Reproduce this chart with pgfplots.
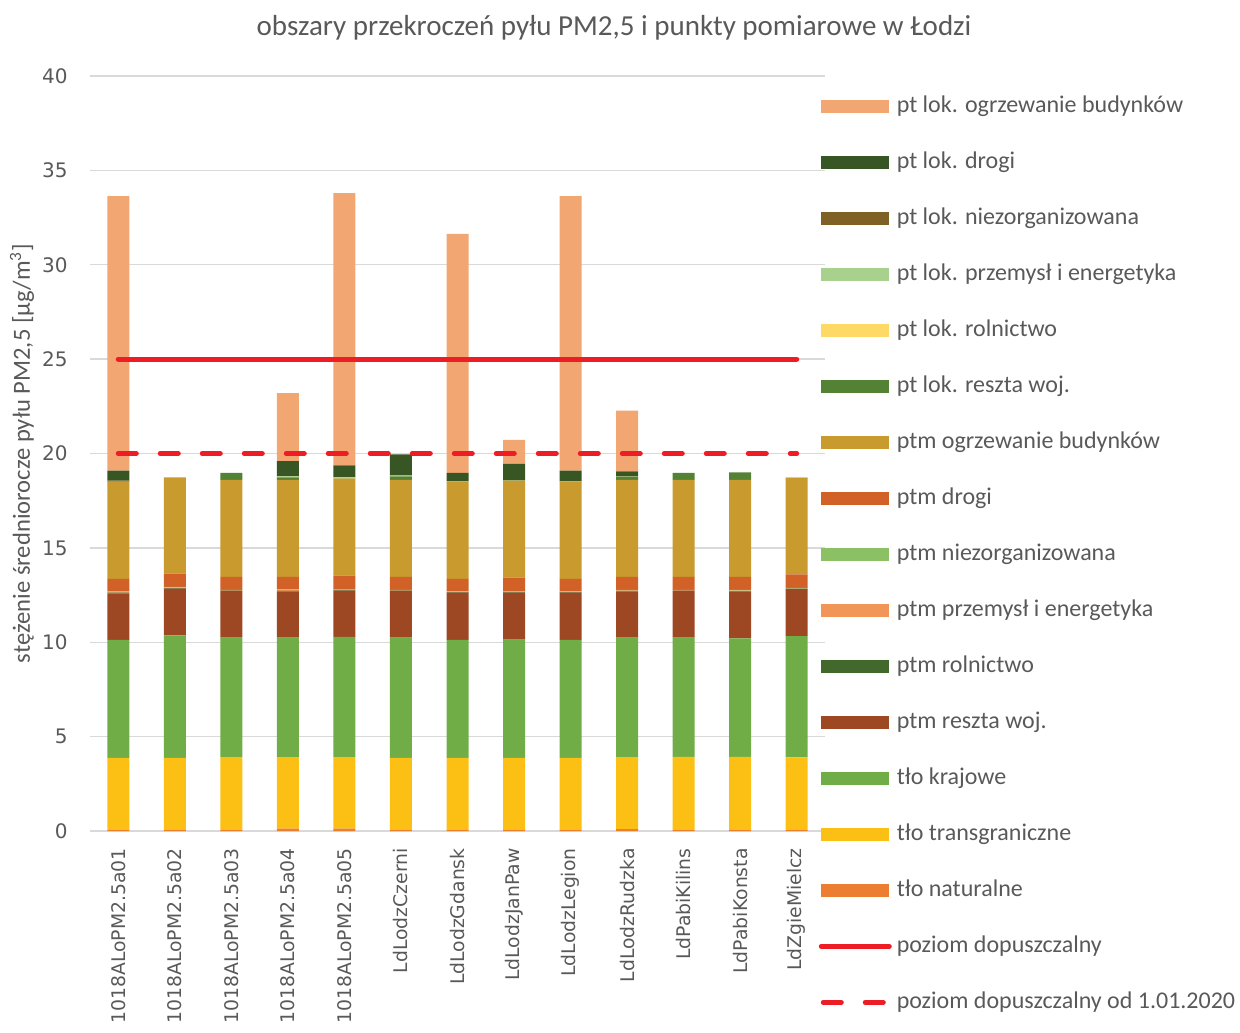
\documentclass[border=0pt]{standalone}
\usepackage{pgfplots}
\pgfplotsset{compat=1.18}
\usepackage{pgfplotstable}
\usepackage{fontspec}
\setmainfont{Carlito}
\newfontfamily\tickfont{DejaVu Sans}

\definecolor{txtgray}{HTML}{595959}
\definecolor{gridgray}{HTML}{D9D9D9}
\definecolor{clogrz}{HTML}{F2A672}
\definecolor{cldrog}{HTML}{375623}
\definecolor{clniez}{HTML}{7F6025}
\definecolor{clprz}{HTML}{A9D18E}
\definecolor{clrol}{HTML}{FFD966}
\definecolor{clres}{HTML}{548235}
\definecolor{cmogrz}{HTML}{C99A2E}
\definecolor{cmdrog}{HTML}{D26127}
\definecolor{cmniez}{HTML}{8CC064}
\definecolor{cmprz}{HTML}{F19658}
\definecolor{cmrol}{HTML}{43682B}
\definecolor{cmres}{HTML}{9E4823}
\definecolor{ckraj}{HTML}{70AD47}
\definecolor{ctrans}{HTML}{FCC014}
\definecolor{cnat}{HTML}{EC7E31}
\definecolor{cred}{HTML}{EE1C24}

\pgfplotstableread{
x nat trans kraj mres mrol mprz mniez mdrog mogrz lres lrol lprz lniez ldrog logrz
0  0.05 3.82 6.26 2.46 0.04 0.03 0.04 0.66 5.13 0.03 0.01 0.01 0.02 0.53 14.55
1  0.05 3.83 6.48 2.48 0.03 0.03 0.03 0.70 5.11 0.00 0.00 0.00 0.00 0.00 0.00
2  0.05 3.87 6.32 2.48 0.02 0.02 0.01 0.70 5.13 0.37 0.00 0.00 0.00 0.00 0.00
3  0.12 3.80 6.32 2.44 0.04 0.04 0.04 0.67 5.13 0.13 0.03 0.03 0.01 0.80 3.60
4  0.12 3.80 6.37 2.45 0.03 0.02 0.03 0.71 5.12 0.02 0.05 0.01 0.01 0.63 14.43
5  0.05 3.83 6.36 2.48 0.02 0.02 0.01 0.70 5.13 0.19 0.02 0.02 0.01 1.12 0.00
6  0.05 3.82 6.26 2.50 0.03 0.02 0.02 0.66 5.13 0.02 0.01 0.01 0.01 0.43 12.66
7  0.05 3.83 6.26 2.49 0.02 0.02 0.03 0.72 5.11 0.03 0.01 0.01 0.01 0.86 1.27
8  0.05 3.82 6.26 2.50 0.03 0.02 0.02 0.66 5.13 0.02 0.01 0.01 0.01 0.55 14.55
9  0.10 3.82 6.32 2.45 0.03 0.03 0.02 0.70 5.13 0.15 0.01 0.01 0.01 0.27 3.22
10 0.05 3.88 6.31 2.49 0.01 0.02 0.01 0.70 5.13 0.37 0.00 0.00 0.00 0.00 0.00
11 0.05 3.88 6.27 2.49 0.02 0.03 0.03 0.70 5.13 0.40 0.00 0.00 0.00 0.00 0.00
12 0.05 3.85 6.43 2.49 0.02 0.02 0.02 0.71 5.10 0.03 0.00 0.00 0.00 0.00 0.00
}\datatable

\pgfplotstableread{
x lim lim2020
0 25 20
12 25 20
}\limtable

\pgfplotsset{
  swatch/.style={legend image code/.code={\fill[##1, draw=none] (0pt,-3.25pt) rectangle (34pt,3.25pt);}},
  lineimg/.style={legend image code/.code={\draw[##1] (0pt,0pt) -- (34pt,0pt);}},
  dashimg/.style={legend image code/.code={\draw[##1] (1pt,0pt) -- (34pt,0pt);}},
  common/.style={at={(0,0)}, anchor=south west, scale only axis,
    width=367.5pt, height=377.5pt, xmin=-0.5, xmax=12.5, ymin=0, ymax=40},
}

\begin{document}
\begin{tikzpicture}
\path[use as bounding box] (-45pt,-100.5pt) rectangle (575pt,415.5pt);
\node[font=\fontsize{14.5}{17}\selectfont, text=txtgray] at (262pt,401.5pt)
  {obszary przekroczeń pyłu PM2,5 i punkty pomiarowe w Łodzi};
\begin{axis}[common,
  ybar stacked, bar width=11pt,
  ytick={0,5,...,40}, xtick={0,...,12},
  xticklabels={1018ALoPM2.5a01,1018ALoPM2.5a02,1018ALoPM2.5a03,1018ALoPM2.5a04,1018ALoPM2.5a05,LdLodzCzerni,LdLodzGdansk,LdLodzJanPaw,LdLodzLegion,LdLodzRudzka,LdPabiKilins,LdPabiKonsta,LdZgieMielcz},
  ymajorgrids, grid style={color=gridgray, line width=0.75pt},
  axis line style={draw=none}, major tick length=0pt,
  /pgf/number format/assume math mode=true,
  yticklabel style={font=\tickfont\fontsize{10}{12}\selectfont, text=txtgray, inner xsep=0pt, xshift=-11pt},
  xticklabel style={font=\tickfont\fontsize{9.4}{11}\selectfont, text=txtgray, rotate=90, anchor=east, inner xsep=8.5pt, inner ysep=0pt},
  ylabel={stężenie średniorocze pyłu PM2,5 [µg/m\textsuperscript{3}]},
  ylabel style={at={(axis description cs:-0.0925,0.5)}, anchor=center, font=\fontsize{12.3}{14}\selectfont, text=txtgray},
]
\addplot[fill=cnat, draw=none] table[x=x, y=nat]{\datatable};
\addplot[fill=ctrans, draw=none] table[x=x, y=trans]{\datatable};
\addplot[fill=ckraj, draw=none] table[x=x, y=kraj]{\datatable};
\addplot[fill=cmres, draw=none] table[x=x, y=mres]{\datatable};
\addplot[fill=cmrol, draw=none] table[x=x, y=mrol]{\datatable};
\addplot[fill=cmprz, draw=none] table[x=x, y=mprz]{\datatable};
\addplot[fill=cmniez, draw=none] table[x=x, y=mniez]{\datatable};
\addplot[fill=cmdrog, draw=none] table[x=x, y=mdrog]{\datatable};
\addplot[fill=cmogrz, draw=none] table[x=x, y=mogrz]{\datatable};
\addplot[fill=clres, draw=none] table[x=x, y=lres]{\datatable};
\addplot[fill=clrol, draw=none] table[x=x, y=lrol]{\datatable};
\addplot[fill=clprz, draw=none] table[x=x, y=lprz]{\datatable};
\addplot[fill=clniez, draw=none] table[x=x, y=lniez]{\datatable};
\addplot[fill=cldrog, draw=none] table[x=x, y=ldrog]{\datatable};
\addplot[fill=clogrz, draw=none] table[x=x, y=logrz]{\datatable};
\end{axis}
\begin{axis}[common, hide axis,
  legend cell align=left,
  legend style={at={(0.991,0.975)}, anchor=north west, draw=none, fill=none,
    inner sep=0pt, row sep=17pt, font=\fontsize{12}{14}\selectfont, text=txtgray,
    nodes={inner sep=0pt, text height=8.5pt, text depth=2.5pt},
    /tikz/every odd column/.append style={column sep=2.5pt}},
]
\addlegendimage{swatch, fill=clogrz}\addlegendentry{pt lok. ogrzewanie budynków}
\addlegendimage{swatch, fill=cldrog}\addlegendentry{pt lok. drogi}
\addlegendimage{swatch, fill=clniez}\addlegendentry{pt lok. niezorganizowana}
\addlegendimage{swatch, fill=clprz}\addlegendentry{pt lok. przemysł i energetyka}
\addlegendimage{swatch, fill=clrol}\addlegendentry{pt lok. rolnictwo}
\addlegendimage{swatch, fill=clres}\addlegendentry{pt lok. reszta woj.}
\addlegendimage{swatch, fill=cmogrz}\addlegendentry{ptm ogrzewanie budynków}
\addlegendimage{swatch, fill=cmdrog}\addlegendentry{ptm drogi}
\addlegendimage{swatch, fill=cmniez}\addlegendentry{ptm niezorganizowana}
\addlegendimage{swatch, fill=cmprz}\addlegendentry{ptm przemysł i energetyka}
\addlegendimage{swatch, fill=cmrol}\addlegendentry{ptm rolnictwo}
\addlegendimage{swatch, fill=cmres}\addlegendentry{ptm reszta woj.}
\addlegendimage{swatch, fill=ckraj}\addlegendentry{tło krajowe}
\addlegendimage{swatch, fill=ctrans}\addlegendentry{tło transgraniczne}
\addlegendimage{swatch, fill=cnat}\addlegendentry{tło naturalne}
\addplot[cred, line width=2.5pt, line cap=round, lineimg]
  table[x=x, y=lim]{\limtable};
\addlegendentry{poziom dopuszczalny}
\addplot[cred, line width=2.5pt, line cap=round, dash pattern=on 9pt off 12pt, dashimg]
  table[x=x, y=lim2020]{\limtable};
\addlegendentry{poziom dopuszczalny od 1.01.2020}
\end{axis}
\end{tikzpicture}
\end{document}
